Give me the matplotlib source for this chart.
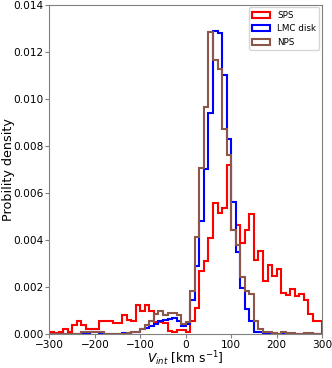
import numpy as np
import matplotlib
matplotlib.use("Agg")
import matplotlib.pyplot as plt

# bin edges in km/s (10 km/s bins)
edges = np.arange(-300, 301, 10)
centers = 0.5 * (edges[:-1] + edges[1:])

# probability density per bin
sps = [
    0.00010, 0.00004, 0.00010, 0.00020, 0.00010, 0.00040, 0.00056, 0.00040, 0.00020, 0.00020,  # -300..-200
    0.00020, 0.00056, 0.00056, 0.00056, 0.00046, 0.00046, 0.00080, 0.00060, 0.00056, 0.00125,  # -200..-100
    0.00100, 0.00125, 0.00100, 0.00050, 0.00050, 0.00046, 0.00014, 0.00007, 0.00017, 0.00017,  # -100..0
    0.00011, 0.00054, 0.00113, 0.00270, 0.00310, 0.00408, 0.00556, 0.00514, 0.00535, 0.00720,  # 0..100
    0.00444, 0.00465, 0.00387, 0.00444, 0.00510, 0.00317, 0.00352, 0.00228, 0.00293, 0.00246,  # 100..200
    0.00275, 0.00176, 0.00166, 0.00190, 0.00162, 0.00169, 0.00144, 0.00087, 0.00054, 0.00054,  # 200..300
]
lmc_disk = [
    0.0, 0.0, 0.0, 0.0, 0.0, 0.0, 0.0, 0.0, 0.0, 0.00007,
    0.00007, 0.0, 0.0, 0.0, 0.0, 0.0, 0.00003, 0.00005, 0.00007, 0.00010,
    0.00020, 0.00028, 0.00035, 0.00042, 0.00054, 0.00060, 0.00063, 0.00070, 0.00056, 0.00035,
    0.00042, 0.00144, 0.00289, 0.00480, 0.00700, 0.00940, 0.01290, 0.01280, 0.01100, 0.00830,
    0.00563, 0.00350, 0.00197, 0.00106, 0.00056, 0.00010, 0.00007, 0.00003, 0.0, 0.0,
    0.0, 0.0, 0.0, 0.0, 0.0, 0.0, 0.0, 0.0, 0.0, 0.0,
]
nps = [
    0.0, 0.0, 0.0, 0.0, 0.0, 0.0, 0.0, 0.00007, 0.00007, 0.00007,
    0.00007, 0.00007, 0.0, 0.0, 0.0, 0.0, 0.0, 0.00005, 0.00010, 0.00010,
    0.00020, 0.00040, 0.00055, 0.00085, 0.00100, 0.00080, 0.00089, 0.00089, 0.00080, 0.00042,
    0.00050, 0.00183, 0.00415, 0.00706, 0.00965, 0.01286, 0.01167, 0.01125, 0.00870, 0.00760,
    0.00444, 0.00380, 0.00242, 0.00183, 0.00172, 0.00056, 0.00020, 0.00010, 0.00010, 0.00005,
    0.0, 0.00010, 0.00005, 0.00005, 0.0, 0.0, 0.00005, 0.00005, 0.0, 0.0,
]

fig = plt.figure(figsize=(3.32, 3.68), dpi=100)
ax = fig.add_axes([0.149, 0.092, 0.821, 0.895])

ax.hist(centers, bins=edges, weights=sps, histtype="step", color="red", lw=1.5, label="SPS")
ax.hist(centers, bins=edges, weights=lmc_disk, histtype="step", color="blue", lw=1.5, label="LMC disk")
ax.hist(centers, bins=edges, weights=nps, histtype="step", color="tab:brown", lw=1.5, label="NPS")

ax.set_xlim(-300, 300)
ax.set_ylim(0, 0.014)
ax.set_xticks([-300, -200, -100, 0, 100, 200, 300])
ax.set_yticks(np.arange(0, 0.0141, 0.002))
ax.yaxis.set_major_formatter(matplotlib.ticker.FormatStrFormatter("%.3f"))
ax.tick_params(labelsize=7.6, color="gray", length=3, pad=1.5)
for s in ax.spines.values():
    s.set_color("gray")

ax.set_xlabel(r"$V_{int}$ [km s$^{-1}$]", fontsize=8.8)
ax.set_ylabel("Probility density", fontsize=9.2)
ax.xaxis.set_label_coords(0.5, -0.047)
ax.yaxis.set_label_coords(-0.128, 0.5)
ax.legend(loc="upper right", fontsize=6.3, handlelength=2.0, borderaxespad=0.3)

fig.savefig("out.png", dpi=100)
